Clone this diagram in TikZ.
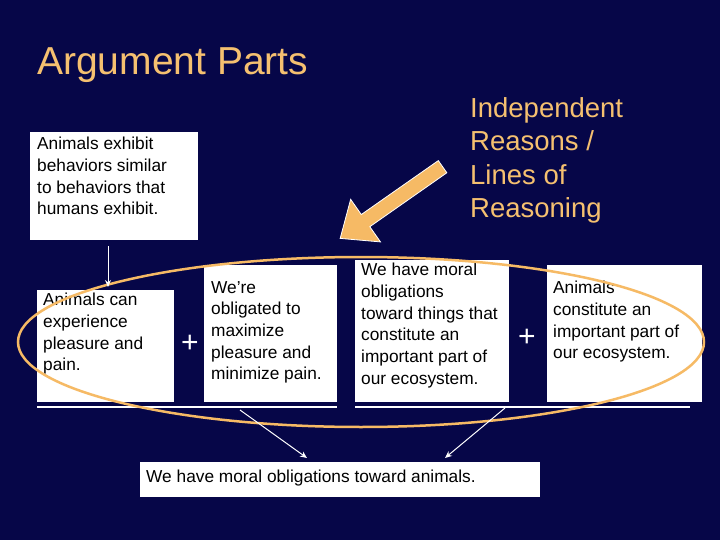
\documentclass[tikz,border=0pt]{standalone}
\usepackage{fontspec}
\setmainfont{Liberation Sans}
\usetikzlibrary{arrows.meta,shapes.arrows}
\definecolor{bg}{HTML}{060648}
\definecolor{gold}{HTML}{F5C070}
\begin{document}
\begin{tikzpicture}[x=1pt,y=-1pt,
 wbox/.style={fill=white,draw=none,inner sep=0pt,anchor=north west},
 txt/.style={align=left,text=black,font=\fontsize{17.3}{21.7}\selectfont,anchor=north west,inner sep=0pt},
 arr/.style={white,line width=1pt,-{Stealth[length=7pt,width=6pt]}}]
\useasboundingbox (0,0) rectangle (720,540);
\fill[bg] (0,0) rectangle (720,540);
\node[anchor=west,text=gold,font=\fontsize{39}{42}\selectfont,inner sep=0pt] (title) at (37,65) {Argument Parts};
\node[anchor=north west,text=gold,align=left,font=\fontsize{27.5}{33.6}\selectfont,inner sep=0pt] (ind) at (470,97) {Independent\\Reasons /\\Lines of\\Reasoning};
% boxes
\fill[white] (30,132) rectangle (198,240);
\node[txt] (b1) at (37,137) {Animals exhibit\\behaviors similar\\to behaviors that\\humans exhibit.};
\fill[white] (37,290) rectangle (174,402);
\node[txt] (ba) at (43,293) {Animals can\\experience\\pleasure and\\pain.};
\fill[white] (204,265) rectangle (337,402);
\node[txt] (bb) at (211,281) {We’re\\obligated to\\maximize\\pleasure and\\minimize pain.};
\fill[white] (355,260) rectangle (509,402);
\node[txt] (bc) at (361,263) {We have moral\\obligations\\toward things that\\constitute an\\important part of\\our ecosystem.};
\fill[white] (547,265) rectangle (702,402);
\node[txt] (bd) at (553,281) {Animals\\constitute an\\important part of\\our ecosystem.};
\fill[white] (140,462) rectangle (540,497);
\node[txt,anchor=west] (be) at (146,478) {We have moral obligations toward animals.};
\node[text=white,font=\fontsize{30}{30}\selectfont,inner sep=0pt] (p1) at (190,344) {+};
\node[text=white,font=\fontsize{30}{30}\selectfont,inner sep=0pt] (p2) at (527,338) {+};
\draw[white,line width=2.5pt] (37,407) -- (337,407) (355,407) -- (690,407);
\draw[gold!90!orange,line width=2.5pt] (361,342) ellipse [x radius=343,y radius=85];
\coordinate (a1s) at (108,246); \coordinate (a1e) at (108,287);
\draw[arr] (a1s) -- (a1e);
\coordinate (l1) at (240,410); \coordinate (l1e) at (307,458);
\coordinate (l2) at (505,408); \coordinate (l2e) at (445,458);
\draw[arr] (l1) -- (l1e);
\draw[arr] (l2) -- (l2e);
\node[single arrow,fill=gold!90!orange,draw=white,line width=0.8pt,minimum height=125pt,minimum width=52pt,single arrow head extend=6pt,single arrow tip angle=80,rotate=-145,inner sep=2pt] (big) at (395,200) {};
\end{tikzpicture}
\end{document}
